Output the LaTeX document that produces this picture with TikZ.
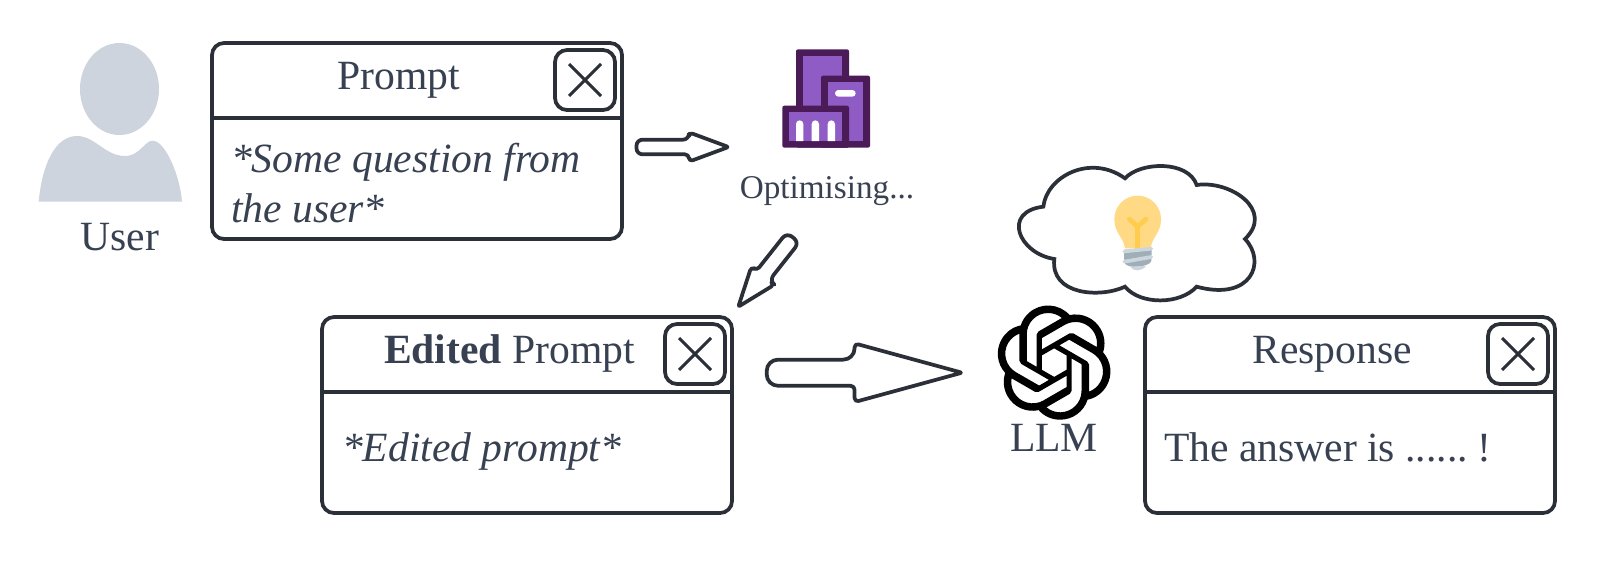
\documentclass[tikz,border=0pt]{standalone}
\usepackage{fontspec}
\setmainfont{Liberation Serif}
\usetikzlibrary{calc,svg.path}
\definecolor{inkc}{HTML}{2B3038}
\definecolor{textc}{HTML}{374151}
\definecolor{personc}{HTML}{CDD4DD}
\definecolor{purpd}{HTML}{4A1B57}
\definecolor{purpl}{HTML}{8E5CC4}
\definecolor{bulbc}{HTML}{FFD983}
\definecolor{filac}{HTML}{FFCC4D}
\definecolor{based}{HTML}{A0AEB8}
\definecolor{basel}{HTML}{CCD6DD}
\tikzset{
  panel/.style={draw=inkc,line width=2.8pt,rounded corners=9pt,minimum width=307.5pt,minimum height=#1,outer sep=0pt,inner sep=0pt,anchor=north west},
  closebtn/.style={draw=inkc,line width=2.8pt,rounded corners=9pt,minimum width=45pt,minimum height=45pt,outer sep=0pt,inner sep=0pt},
  divider/.style={draw=inkc,line width=2.8pt},
  crossline/.style={draw=inkc,line width=2.2pt},
  blockline/.style={draw=inkc,line width=2.8pt,line join=round},
  bigtext/.style={text=textc,font=\fontsize{31.2}{37.5}\selectfont,inner sep=0pt,outer sep=0pt},
  midtext/.style={text=textc,font=\fontsize{24.9}{30}\selectfont,inner sep=0pt,outer sep=0pt},
}
\newcommand{\closecross}[1]{%
  \draw[crossline] ($(#1.center)+(-16,-16)$) -- ($(#1.center)+(16,16)$);
  \draw[crossline] ($(#1.center)+(-16,16)$) -- ($(#1.center)+(16,-16)$);}
% from, to, shaft half, head half, shoulder fraction, tail radius
\newcommand{\blockarrow}[6]{%
  \draw[blockline,rounded corners=#6]
    ($(#1)!#3!90:(#2)$) --
    ($(#1)!#5!(#2)!#3!90:(#2)$) [rounded corners=3pt] --
    ($(#1)!#5!(#2)!#4!90:(#2)$) [rounded corners=1.5pt] --
    (#2) [rounded corners=3pt] --
    ($(#1)!#5!(#2)!#4!-90:(#2)$) --
    ($(#1)!#5!(#2)!#3!-90:(#2)$) [rounded corners=#6] --
    ($(#1)!#3!-90:(#2)$) -- cycle;}
\begin{document}
\begin{tikzpicture}[x=.75pt,y=-.75pt]
\useasboundingbox[fill=white] (0,0) rectangle (1599,561);

% user
\fill[personc] (119.5,89) ellipse [x radius=39.5,y radius=46];
\fill[personc] (38.7,201.7) .. controls (42,165) and (55,136) .. (77,136)
  .. controls (95,136) and (105,156) .. (125,156)
  .. controls (140,156) and (145,140) .. (153,140.7)
  .. controls (165,141) and (180,175) .. (182,201.7) -- cycle;
\node[bigtext,anchor=base] (usr) at (120,250) {User};

% prompt panel
\node[panel=147pt] (p1) at (212,43) {};
\draw[divider] ($(p1.north west)+(0,74.7)$) -- ($(p1.north east)+(0,74.7)$);
\node[closebtn] (c1) at ($(p1.north east)+(-37,37)$) {};
\closecross{c1}
\node[bigtext,anchor=base] (t1) at (399,89) {Prompt};
\node[bigtext,anchor=base west,align=left] (b1) at (231,222) {\itshape *Some question from\\\itshape the user*};

% edited panel
\node[panel=147pt] (p2) at (322,317) {};
\draw[divider] ($(p2.north west)+(0,74.7)$) -- ($(p2.north east)+(0,74.7)$);
\node[closebtn] (c2) at ($(p2.north east)+(-37,37)$) {};
\closecross{c2}
\node[bigtext,anchor=base] (t2) at (509.5,363) {\textbf{Edited} Prompt};
\node[bigtext,anchor=base west] (b2) at (342,461) {\itshape *Edited prompt*};

% response panel
\node[panel=147pt] (p3) at (1145,317) {};
\draw[divider] ($(p3.north west)+(0,74.7)$) -- ($(p3.north east)+(0,74.7)$);
\node[closebtn] (c3) at ($(p3.north east)+(-37,37)$) {};
\closecross{c3}
\node[bigtext,anchor=base] (t3) at (1332,363) {Response};
\node[bigtext,anchor=base west] (b3) at (1164,461) {The answer is ...... \kern-3pt!};

% optimiser icon
\begin{scope}[shift={(530,30)},scale=.33333]
  \fill[purpd,rounded corners=1.5pt] (798,58) rectangle (957,353);
  \fill[purpl] (818,78) rectangle (937,333);
  \fill[purpd,rounded corners=1.5pt] (873,137) rectangle (1020,353);
  \fill[purpl] (893,157) rectangle (1000,333);
  \fill[purpd,rounded corners=1.5pt] (757,227) rectangle (957,353);
  \fill[purpl] (777,247) rectangle (937,333);
  \fill[white,rounded corners=2.5pt] (915,180) rectangle (977,200);
  \fill[white] (798,333) -- (798,282) arc[start angle=180,end angle=0,radius=11,y radius=-11] -- (820,333) -- cycle;
  \fill[white] (845,333) -- (845,282) arc[start angle=180,end angle=0,radius=11,y radius=-11] -- (867,333) -- cycle;
  \fill[white] (893,333) -- (893,282) arc[start angle=180,end angle=0,radius=11,y radius=-11] -- (915,333) -- cycle;
\end{scope}
\node[midtext,anchor=base] (opt) at (827,198) {Optimising...};

% cloud
\begin{scope}[shift={(1010,155)},scale=.33333]
  \draw[inkc,line width=2.8pt,line join=miter] (345,70)
    .. controls (390,20) and (535,15) .. (560,90)
    .. controls (660,75) and (795,165) .. (705,252)
    .. controls (770,320) and (725,440) .. (560,395)
    .. controls (510,450) and (390,450) .. (345,395)
    .. controls (270,430) and (120,420) .. (133,312)
    .. controls (25,295) and (-25,170) .. (100,155)
    .. controls (110,65) and (240,-5) .. (345,70) -- cycle;
  % bulb
  \fill[bulbc] (345,280) .. controls (340,245) and (313,235) .. (313,192)
    arc[start angle=180,end angle=0,radius=70,y radius=-70]
    .. controls (453,235) and (426,245) .. (422,280) -- cycle;
  \draw[filac,line width=3.5pt,line cap=round,line join=round] (358,192) -- (383,215) -- (408,192);
  \draw[filac,line width=3.5pt] (383,215) -- (383,282);
  \fill[based] (342,285) -- (425,278) -- (424,318) .. controls (420,335) and (350,345) .. (343,322) -- cycle;
  \fill[basel] (360,335) .. controls (370,350) and (395,350) .. (408,333) -- cycle;
  \draw[basel,line width=2.8pt,line cap=round] (343,289) -- (424,281);
  \draw[basel,line width=2.8pt,line cap=round] (343,320) -- (424,306);
\end{scope}

% logo
\begin{scope}[shift={(997,305.5)},xscale=3.57,yscale=-3.57]
\fill[black,even odd rule] (0,0) svg {M 22.2819 9.8211 a 5.9847 5.9847 0 0 0 -0.5157 -4.9108 a 6.0462 6.0462 0 0 0 -6.5098 -2.9 A 6.0651 6.0651 0 0 0 4.9807 4.1818 a 5.9847 5.9847 0 0 0 -3.9977 2.9 a 6.0462 6.0462 0 0 0 0.7427 7.0966 a 5.98 5.98 0 0 0 0.511 4.9107 a 6.051 6.051 0 0 0 6.5146 2.9001 A 5.9847 5.9847 0 0 0 13.2599 24 a 6.0557 6.0557 0 0 0 5.7718 -4.2058 a 5.9894 5.9894 0 0 0 3.9977 -2.9001 a 6.0557 6.0557 0 0 0 -0.7475 -7.0729 z
M 13.2599 22.4292 a 4.4755 4.4755 0 0 1 -2.8764 -1.0408 l 0.1419 -0.0804 l 4.7783 -2.7582 a 0.7948 0.7948 0 0 0 0.3927 -0.6813 v -6.7369 l 2.02 1.1686 a 0.071 0.071 0 0 1 0.038 0.052 v 5.5826 a 4.504 4.504 0 0 1 -4.4945 4.4944 z
M 3.5992 18.3038 a 4.4708 4.4708 0 0 1 -0.5346 -3.0137 l 0.142 0.0852 l 4.783 2.7582 a 0.7712 0.7712 0 0 0 0.7806 0 l 5.8428 -3.3685 v 2.3324 a 0.0804 0.0804 0 0 1 -0.0332 0.0615 L 9.74 19.9502 a 4.4992 4.4992 0 0 1 -6.1408 -1.6464 z
M 2.3408 7.8956 a 4.485 4.485 0 0 1 2.3655 -1.9728 V 11.6 a 0.7664 0.7664 0 0 0 0.3879 0.6765 l 5.8144 3.3543 l -2.0201 1.1685 a 0.0757 0.0757 0 0 1 -0.071 0 l -4.8303 -2.7865 A 4.504 4.504 0 0 1 2.3408 7.872 z
M 18.9371 11.7514 L 13.1038 8.364 L 15.1192 7.2 a 0.0757 0.0757 0 0 1 0.071 0 l 4.8303 2.7913 a 4.4944 4.4944 0 0 1 -0.6765 8.1042 v -5.6772 a 0.79 0.79 0 0 0 -0.407 -0.667 z
M 20.9478 8.7283 l -0.142 -0.0852 l -4.7735 -2.7818 a 0.7759 0.7759 0 0 0 -0.7854 0 L 9.409 9.2297 V 6.8974 a 0.0662 0.0662 0 0 1 0.0284 -0.0615 l 4.8303 -2.7866 a 4.4992 4.4992 0 0 1 6.6802 4.66 z
M 8.3065 12.863 l -2.02 -1.1638 a 0.0804 0.0804 0 0 1 -0.038 -0.0567 V 6.0742 a 4.4992 4.4992 0 0 1 7.3757 -3.4537 l -0.142 0.0805 L 8.704 5.459 a 0.7948 0.7948 0 0 0 -0.3927 0.6813 z
M 9.4041 10.4976 l 2.602 -1.4998 l 2.6069 1.4998 v 2.9994 l -2.5974 1.4997 l -2.6067 -1.4997 z};
\end{scope}
\node[bigtext,anchor=base] (llm) at (1054,451.7) {LLM};

% block arrows
\coordinate (a1s) at (636.5,147);
\coordinate (a1e) at (728.5,147);
\coordinate (a2s) at (793,237.5);
\coordinate (a2e) at (738.3,306.7);
\coordinate (a3s) at (766.7,372.7);
\coordinate (a3e) at (962,372.7);
\blockarrow{a1s}{a1e}{5.5pt}{11pt}{.57}{4.5pt}
\blockarrow{a2s}{a2e}{6pt}{11pt}{.55}{5pt}
\blockarrow{a3s}{a3e}{9.8pt}{22pt}{.45}{8.5pt}
\end{tikzpicture}
\end{document}
